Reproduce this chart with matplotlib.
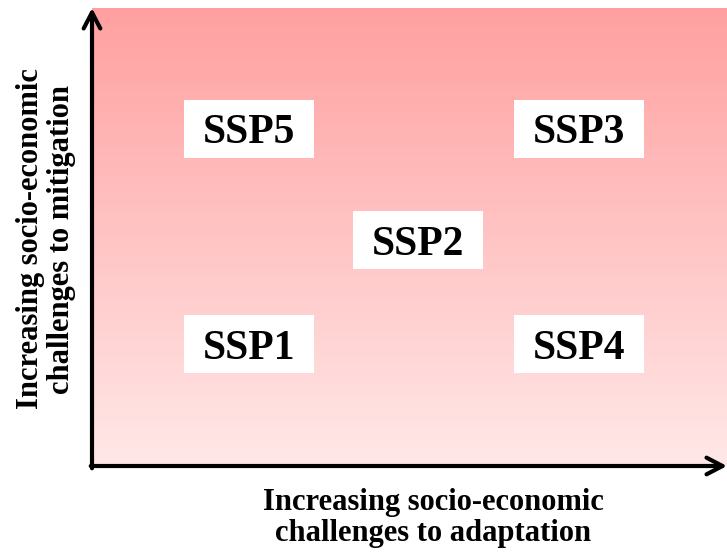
import numpy as np
import matplotlib
matplotlib.use("Agg")
import matplotlib.pyplot as plt
import matplotlib.transforms as mtransforms
from matplotlib.colors import LinearSegmentedColormap

labels = ["SSP5", "SSP3", "SSP2", "SSP1", "SSP4"]
x_pos = [0.247, 0.767, 0.513, 0.247, 0.767]
y_pos = [0.736, 0.736, 0.493, 0.266, 0.266]
xlabel = "Increasing socio-economic\nchallenges to adaptation"
ylabel = "Increasing socio-economic\nchallenges to mitigation"

plt.rcParams['font.family'] = ['Liberation Serif', 'DejaVu Serif']

fig = plt.figure(figsize=(7.27, 5.56), dpi=100)
ax = fig.add_axes([92/727, 90/556, 635/727, 458/556])
ax.set_xlim(0, 1)
ax.set_ylim(0, 1)
ax.axis('off')

cmap = LinearSegmentedColormap.from_list('g', ['#FFE8E8', '#FFA0A0'])
grad = np.linspace(0, 1, 256).reshape(-1, 1)
ax.imshow(grad, cmap=cmap, origin='lower', extent=[0, 1, 0, 1], aspect='auto', zorder=0)

bw, bh = 0.205, 0.127
txt_trans = mtransforms.offset_copy(ax.transData, fig=fig, x=0, y=-10.5, units='points')
for lab, x, y in zip(labels, x_pos, y_pos):
    ax.add_patch(plt.Rectangle((x - bw/2, y - bh/2), bw, bh, facecolor='white',
                               edgecolor='none', zorder=2))
    ax.text(x, y, lab, ha='center', va='baseline', fontsize=30, fontweight='bold',
            color='black', zorder=3, transform=txt_trans)

# axes arrows
style = '->,head_length=1.15,head_width=0.6'
ax.annotate('', xy=(0, 1.0), xytext=(0, -0.005), xycoords='axes fraction',
            arrowprops=dict(arrowstyle=style, lw=3,
                            color='black', shrinkA=0, shrinkB=0), annotation_clip=False)
ax.annotate('', xy=(1.0, 0), xytext=(-0.002, 0), xycoords='axes fraction',
            arrowprops=dict(arrowstyle=style, lw=3,
                            color='black', shrinkA=0, shrinkB=0), annotation_clip=False)

fig.text(433/727, 1 - 518/556, xlabel, ha='center', va='center', fontsize=22,
         fontweight='bold', linespacing=1.12)
fig.text(46/727, 1 - 239/556, ylabel, ha='center', va='center', fontsize=22,
         fontweight='bold', rotation=90, linespacing=1.12)

fig.savefig('out.png', dpi=100)
